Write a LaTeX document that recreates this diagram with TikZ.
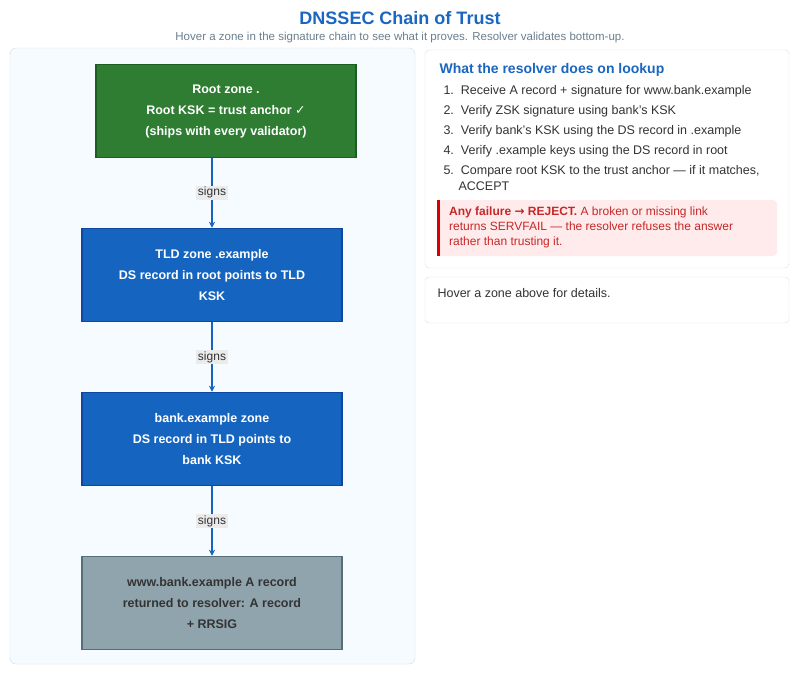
\documentclass[tikz,border=0pt]{standalone}
\usepackage{fontspec}
\setmainfont{Liberation Sans}
\newfontfamily\djv{DejaVu Sans}
\usetikzlibrary{arrows.meta}
\definecolor{tblue}{HTML}{1A66C0}
\definecolor{zblue}{HTML}{1565C0}
\definecolor{zblueb}{HTML}{0D47A1}
\definecolor{zgreen}{HTML}{2E7D32}
\definecolor{zgreenb}{HTML}{1B5E20}
\definecolor{zgray}{HTML}{90A4AE}
\definecolor{zgrayb}{HTML}{546E7A}
\definecolor{txt}{HTML}{333333}
\definecolor{sub}{HTML}{6B7F8E}
\definecolor{redt}{HTML}{C62828}
\begin{document}
\begin{tikzpicture}[x=1pt,y=-1pt,
  zone/.style={draw=#1,line width=1.5pt,minimum width=260pt,minimum height=93pt,align=center,font=\bfseries\fontsize{12.5}{21}\selectfont,text=white},
  conn/.style={draw=zblue,line width=1.6pt,-{Stealth[length=6pt,width=6pt]}},
  lab/.style={fill=black!8,inner sep=1.5pt,font=\fontsize{12}{14}\selectfont,text=txt},
  panel/.style={draw=black!12,rounded corners=4pt,fill=white},
  item/.style={anchor=west,font=\fontsize{12.5}{15}\selectfont,text=txt,align=left}]
\useasboundingbox[fill=white] (0,0) rectangle (800,672);
\node[font=\bfseries\fontsize{18}{20}\selectfont,text=tblue] (title) at (400,18) {DNSSEC Chain of Trust};
\node[font=\fontsize{11.5}{13}\selectfont,text=sub] (subt) at (400,38) {Hover a zone in the signature chain to see what it proves. Resolver validates bottom-up.};
\path[draw=black!15,fill=blue!40!cyan!4,rounded corners=6pt] (10,48) rectangle (415,664);
\node[zone=zgreenb,fill=zgreen] (root) at (226,111) {Root zone .\\Root KSK = trust anchor {\djv ✓}\\(ships with every validator)};
\node[zone=zblueb,fill=zblue] (tld) at (212,275) {TLD zone .example\\DS record in root points to TLD\\KSK};
\node[zone=zblueb,fill=zblue] (bank) at (212,439) {bank.example zone\\DS record in TLD points to\\bank KSK};
\node[zone=zgrayb,fill=zgray,text=txt] (www) at (212,603) {www.bank.example A record\\returned to resolver: A record\\+ RRSIG};
\draw[conn] (212,158) -- node[lab]{signs} (tld.north);
\draw[conn] (tld) -- node[lab]{signs} (bank);
\draw[conn] (bank) -- node[lab]{signs} (www);
\path[panel] (425,50) rectangle (789,268);
\node[anchor=west,font=\bfseries\fontsize{14}{16}\selectfont,text=tblue] (h) at (436,70) {What the resolver does on lookup};
\node[item] (i1) at (440,91) {1.\ \ Receive A record + signature for www.bank.example};
\node[item] (i2) at (440,111) {2.\ \ Verify ZSK signature using bank's KSK};
\node[item] (i3) at (440,131) {3.\ \ Verify bank's KSK using the DS record in .example};
\node[item] (i4) at (440,151) {4.\ \ Verify .example keys using the DS record in root};
\node[item] (i5) at (440,171) {5.\ \ Compare root KSK to the trust anchor — if it matches,};
\node[item] (i6) at (455,186) {ACCEPT};
\path[fill=red!8,rounded corners=4pt] (437,200) rectangle (777,256);
\path[fill=red!85!black] (437,200) rectangle (440,256);
\node[anchor=north west,align=left,font=\fontsize{12}{15}\selectfont,text=redt,inner sep=0pt] (fail) at (449,207) {\textbf{Any failure {\djv →} REJECT.} A broken or missing link\\returns SERVFAIL — the resolver refuses the answer\\rather than trusting it.};
\path[panel] (425,277) rectangle (789,323);
\node[anchor=west,font=\fontsize{12.5}{15}\selectfont,text=txt] (hint) at (434,293) {Hover a zone above for details.};
\end{tikzpicture}
\end{document}
